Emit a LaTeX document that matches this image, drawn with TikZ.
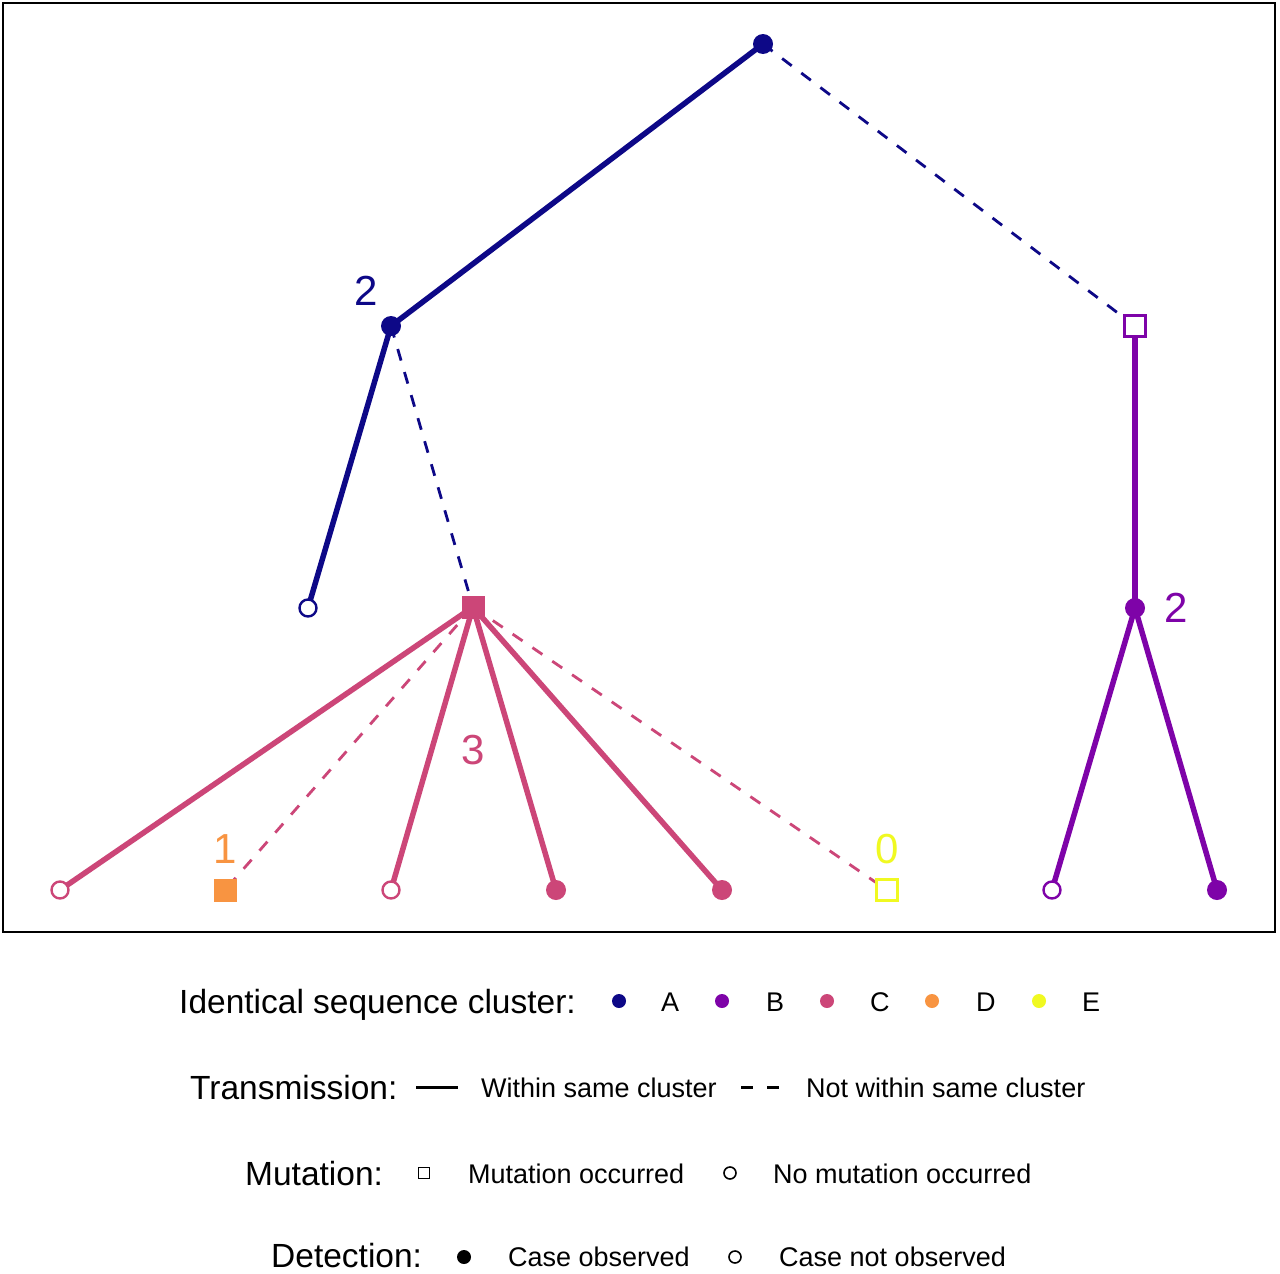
\documentclass[tikz,border=0pt]{standalone}
\usepackage{fontspec}
\setmainfont{Liberation Sans}
\definecolor{cA}{HTML}{0D0887}
\definecolor{cB}{HTML}{7E03A8}
\definecolor{cC}{HTML}{CC4678}
\definecolor{cD}{HTML}{F89441}
\definecolor{cE}{HTML}{F0F921}
\pgfdeclarelayer{paper}
\pgfdeclarelayer{edges}
\pgfsetlayers{paper,edges,main}
\tikzset{
  solidedge/.style={line width=5.5pt},
  dashedge/.style={line width=2.8pt, dash pattern=on 12pt off 12pt},
  obsnode/.style={circle, fill=#1, draw=none, minimum size=20pt, inner sep=0pt},
  unobsnode/.style={circle, fill=white, draw=#1, line width=2.4pt, minimum size=17pt, inner sep=0pt},
  mutfill/.style={rectangle, fill=#1, draw=none, minimum size=23pt, inner sep=0pt},
  mutopen/.style={rectangle, fill=white, draw=#1, line width=2.4pt, minimum size=21pt, inner sep=0pt},
  treelabel/.style={font=\fontsize{42}{42}\selectfont, text=#1, inner sep=0pt},
  legtitle/.style={font=\fontsize{33.5}{33.5}\selectfont, anchor=base west, inner sep=0pt, text depth=0pt},
  legitem/.style={font=\fontsize{27}{27}\selectfont, anchor=base west, inner sep=0pt, text depth=0pt},
  legdot/.style={circle, fill=#1, minimum size=14pt, inner sep=0pt},
  legopen/.style={circle, draw=black, fill=white, line width=1.6pt, minimum size=12pt, inner sep=0pt},
}
\begin{document}
\begin{tikzpicture}[x=1pt, y=-1pt]
\useasboundingbox (0,0) rectangle (1280,1274);
\begin{pgfonlayer}{paper}
\fill[white] (0,0) rectangle (1280,1274);
\end{pgfonlayer}
\node[draw=black, line width=1.6pt, minimum width=1272pt, minimum height=929pt, inner sep=0pt] (frame) at (639,467.5) {};

% tree nodes
\node[obsnode=cA] (root) at (763,44) {};
\node[obsnode=cA] (nA2) at (391,326) {};
\node[mutopen=cB] (sqB) at (1135,326) {};
\node[unobsnode=cA] (leafA) at (308,608) {};
\node[mutfill=cC] (sqC) at (473,607) {};
\node[obsnode=cB] (nB2) at (1135,608) {};
\node[unobsnode=cC] (c1) at (60,890) {};
\node[mutfill=cD] (d1) at (225,890) {};
\node[unobsnode=cC] (c2) at (391,890) {};
\node[obsnode=cC] (c3) at (556,890) {};
\node[obsnode=cC] (c4) at (722,890) {};
\node[mutopen=cE] (e1) at (887,890) {};
\node[unobsnode=cB] (b1) at (1052,890) {};
\node[obsnode=cB] (b2) at (1217,890) {};

% edges
\begin{pgfonlayer}{edges}
\draw[solidedge, cA] (root.center) -- (nA2.center);
\draw[dashedge, cA] (root.center) -- (sqB.center);
\draw[solidedge, cA] (nA2.center) -- (leafA.center);
\draw[dashedge, cA] (nA2.center) -- (sqC.center);
\draw[solidedge, cB] (sqB.center) -- (nB2.center);
\draw[solidedge, cB] (nB2.center) -- (b1.center);
\draw[solidedge, cB] (nB2.center) -- (b2.center);
\draw[solidedge, cC] (sqC.center) -- (c1.center);
\draw[dashedge, cC] (sqC.center) -- (d1.center);
\draw[solidedge, cC] (sqC.center) -- (c2.center);
\draw[solidedge, cC] (sqC.center) -- (c3.center);
\draw[solidedge, cC] (sqC.center) -- (c4.center);
\draw[dashedge, cC] (sqC.center) -- (e1.center);
\end{pgfonlayer}

% tree labels
\node[treelabel=cA] (lA2) at (366,291) {2};
\node[treelabel=cB] (lB2) at (1176,608) {2};
\node[treelabel=cC] (lC3) at (473,750) {3};
\node[treelabel=cD] (lD1) at (225,849) {1};
\node[treelabel=cE] (lE0) at (887,849) {0};

% legend row 1
\node[legtitle] (t1) at (179,1013) {Identical sequence cluster:};
\node[legdot=cA] (kA) at (619,1001) {};
\node[legitem] (lgA) at (661,1011) {A};
\node[legdot=cB] (kB) at (722,1001) {};
\node[legitem] (lgB) at (766,1011) {B};
\node[legdot=cC] (kC) at (827,1001) {};
\node[legitem] (lgC) at (870,1011) {C};
\node[legdot=cD] (kD) at (932,1001) {};
\node[legitem] (lgD) at (976,1011) {D};
\node[legdot=cE] (kE) at (1039,1001) {};
\node[legitem] (lgE) at (1082,1011) {E};

% legend row 2
\node[legtitle] (t2) at (190,1099) {Transmission:};
\coordinate (s1) at (416,1087);
\coordinate (s2) at (458,1087);
\draw[line width=3pt, black] (s1) -- (s2);
\node[legitem] (w1) at (481,1097) {Within same cluster};
\coordinate (d1a) at (741,1087);
\coordinate (d1b) at (781,1087);
\draw[line width=3pt, black, dash pattern=on 12pt off 14pt] (d1a) -- (d1b);
\node[legitem] (w2) at (806,1097) {Not within same cluster};

% legend row 3
\node[legtitle] (t3) at (245,1185) {Mutation:};
\node[rectangle, draw=black, fill=white, line width=1.6pt, minimum size=11pt, inner sep=0pt] (kM1) at (424,1173) {};
\node[legitem] (m1) at (468,1183) {Mutation occurred};
\node[legopen] (kM2) at (730,1173) {};
\node[legitem] (m2) at (773,1183) {No mutation occurred};

% legend row 4
\node[legtitle] (t4) at (271,1267) {Detection:};
\node[legdot=black] (kD1) at (464,1257) {};
\node[legitem] (o1) at (508,1266) {Case observed};
\node[legopen] (kD2) at (735,1257) {};
\node[legitem] (o2) at (779,1266) {Case not observed};
\end{tikzpicture}
\end{document}
